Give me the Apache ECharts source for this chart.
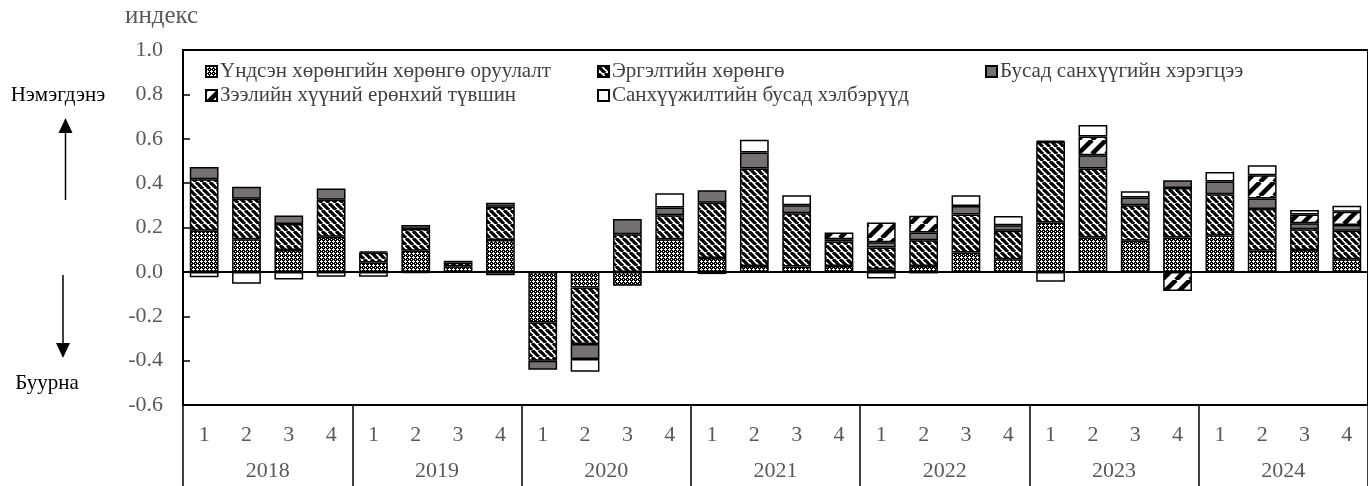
<!DOCTYPE html>
<html>
<head>
<meta charset="utf-8">
<script src="https://cdn.jsdelivr.net/npm/echarts@6/dist/echarts.min.js"></script>
<style>
  html, body { margin: 0; padding: 0; background: #fff; }
  #main { width: 1368px; height: 486px; }
</style>
</head>
<body>
<div id="main"></div>
<script>
// quarters and years
var quarters = ['1', '2', '3', '4', '1', '2', '3', '4', '1', '2', '3', '4', '1', '2', '3', '4',
  '1', '2', '3', '4', '1', '2', '3', '4', '1', '2', '3', '4']
var years = ['2018', '2019', '2020', '2021', '2022', '2023', '2024']

var seriesNames = [
  'Үндсэн хөрөнгийн хөрөнгө оруулалт',
  'Эргэлтийн хөрөнгө',
  'Бусад санхүүгийн хэрэгцээ',
  'Зээлийн хүүний ерөнхий түвшин',
  'Санхүүжилтийн бусад хэлбэрүүд'
]

// values per quarter, 2018Q1 .. 2024Q4
var fixedInvest = [0.185, 0.147, 0.099, 0.158, 0.042, 0.095, 0.025, 0.144,
  -0.228, -0.07, -0.063, 0.147, 0.062, 0.027, 0.024, 0.027,
  0.012, 0.027, 0.087, 0.057, 0.222, 0.155, 0.14, 0.155,
  0.165, 0.095, 0.099, 0.057]
var workingCap = [0.233, 0.183, 0.117, 0.167, 0.045, 0.098, 0.017, 0.15,
  -0.173, -0.255, 0.17, 0.108, 0.249, 0.439, 0.24, 0.11,
  0.098, 0.116, 0.172, 0.128, 0.365, 0.311, 0.16, 0.223,
  0.185, 0.188, 0.093, 0.128]
var otherNeeds = [0.055, 0.054, 0.038, 0.051, 0.005, 0.018, 0.008, 0.018,
  -0.04, -0.068, 0.068, 0.035, 0.057, 0.072, 0.036, 0.01,
  0.023, 0.035, 0.038, 0.025, 0.004, 0.06, 0.035, 0.035,
  0.057, 0.048, 0.027, 0.026]
var interestLvl = [null, null, null, null, null, null, null, null,
  null, null, null, null, null, null, null, 0.03,
  0.09, 0.075, null, null, null, 0.084, null, -0.086,
  null, 0.105, 0.04, 0.06]
var otherForms = [-0.024, -0.054, -0.034, -0.022, -0.022, -0.005, null, -0.015,
  null, -0.057, null, 0.064, -0.01, 0.057, 0.045, null,
  -0.03, -0.007, 0.048, 0.042, -0.045, 0.052, 0.028, null,
  0.043, 0.045, 0.02, 0.027]

var font = 'Liberation Serif'

function makeTile(size, bg, draw) {
  var c = document.createElement('canvas')
  c.width = size
  c.height = size
  var ctx = c.getContext('2d')
  ctx.fillStyle = bg
  ctx.fillRect(0, 0, size, size)
  draw(ctx, size)
  return { image: c, repeat: 'repeat' }
}

// dark checker with small white crosses
var crossFill = makeTile(4, '#000', function (ctx) {
  ctx.fillStyle = '#fff'
  ctx.fillRect(1, 0, 1, 3)
  ctx.fillRect(0, 1, 3, 1)
  ctx.fillRect(3, 3, 1, 1)
})
// narrow "\" stripes
var diagFill = makeTile(7, '#fff', function (ctx, s) {
  ctx.strokeStyle = '#000'
  ctx.lineWidth = 3.3
  for (var k = -1; k <= 1; k++) {
    ctx.beginPath()
    ctx.moveTo(k * s, 0)
    ctx.lineTo(k * s + s, s)
    ctx.stroke()
  }
})
// wide "/" stripes
var wideFill = makeTile(14, '#fff', function (ctx, s) {
  ctx.strokeStyle = '#000'
  ctx.lineWidth = 4.5
  for (var k = -1; k <= 1; k++) {
    ctx.beginPath()
    ctx.moveTo(k * s, s)
    ctx.lineTo(k * s + s, 0)
    ctx.stroke()
  }
})

var fills = [crossFill, diagFill, '#767171', wideFill, '#ffffff']
var datas = [fixedInvest, workingCap, otherNeeds, interestLvl, otherForms]

var series = seriesNames.map(function (name, i) {
  var s = {
    name: name,
    type: 'bar',
    stack: 'total',
    barWidth: '68%',
    itemStyle: { color: fills[i], borderColor: '#000', borderWidth: 1.5 },
    data: datas[i]
  }
  if (i === 0) {
    s.markLine = {
      silent: true,
      symbol: 'none',
      label: { show: false },
      lineStyle: { color: '#000', width: 2, type: 'solid' },
      data: [{ yAxis: 0 }]
    }
  }
  return s
})

var legendPos = [[205, 61], [597, 61], [985, 61], [205, 85], [597, 85]]
var legends = seriesNames.map(function (name, i) {
  return {
    data: [name],
    left: legendPos[i][0],
    top: legendPos[i][1],
    padding: 0,
    icon: 'rect',
    itemWidth: 11,
    itemHeight: 11,
    textStyle: { fontFamily: font, fontSize: 21, color: '#404040', padding: [0, 0, 0, -2] }
  }
})

var myChart = echarts.init(document.getElementById('main'))

var option = {
  animation: false,
  legend: legends,
  grid: {
    left: 183,
    right: -6,
    top: 50,
    bottom: 81,
    show: true,
    borderColor: '#000',
    borderWidth: 2
  },
  xAxis: [
    {
      type: 'category',
      data: quarters,
      position: 'bottom',
      axisLine: { show: false, onZero: false },
      axisTick: { show: false },
      axisLabel: { margin: 19, fontFamily: font, fontSize: 22, color: '#595959' }
    },
    {
      type: 'category',
      data: years,
      position: 'bottom',
      axisLine: { show: true, onZero: false, lineStyle: { color: '#000', width: 2 } },
      axisTick: { show: true, length: 81, lineStyle: { color: '#000', width: 1.5 } },
      axisLabel: { margin: 55, fontFamily: font, fontSize: 22, color: '#595959' }
    }
  ],
  yAxis: {
    type: 'value',
    min: -0.6,
    max: 1.0,
    interval: 0.2,
    axisLine: { show: true, lineStyle: { color: '#000', width: 2 } },
    axisTick: { show: true, inside: true, length: 7, lineStyle: { color: '#000', width: 1.5 } },
    splitLine: { show: false },
    axisLabel: {
      margin: 20,
      fontFamily: font,
      fontSize: 22,
      color: '#595959',
      formatter: function (v) {
        if (Math.abs(v) < 1e-9) v = 0
        return v.toFixed(1)
      }
    }
  },
  graphic: [
    { type: 'text', left: 125, top: 4, style: { text: 'индекс', font: '25px "Liberation Serif"', fill: '#595959' } },
    { type: 'text', x: 58, y: 95, style: { text: 'Нэмэгдэнэ', font: '21px "Liberation Serif"', fill: '#000', align: 'center', verticalAlign: 'middle' } },
    { type: 'text', x: 47, y: 383, style: { text: 'Буурна', font: '21px "Liberation Serif"', fill: '#000', align: 'center', verticalAlign: 'middle' } },
    { type: 'line', shape: { x1: 65.5, y1: 200, x2: 65.5, y2: 132 }, style: { stroke: '#000', lineWidth: 1.5 } },
    { type: 'polygon', shape: { points: [[65.5, 118], [58.5, 133], [72.5, 133]] }, style: { fill: '#000' } },
    { type: 'line', shape: { x1: 63, y1: 275, x2: 63, y2: 344 }, style: { stroke: '#000', lineWidth: 1.5 } },
    { type: 'polygon', shape: { points: [[63, 358], [56, 343], [70, 343]] }, style: { fill: '#000' } }
  ],
  series: series
}

myChart.setOption(option)
</script>
</body>
</html>
